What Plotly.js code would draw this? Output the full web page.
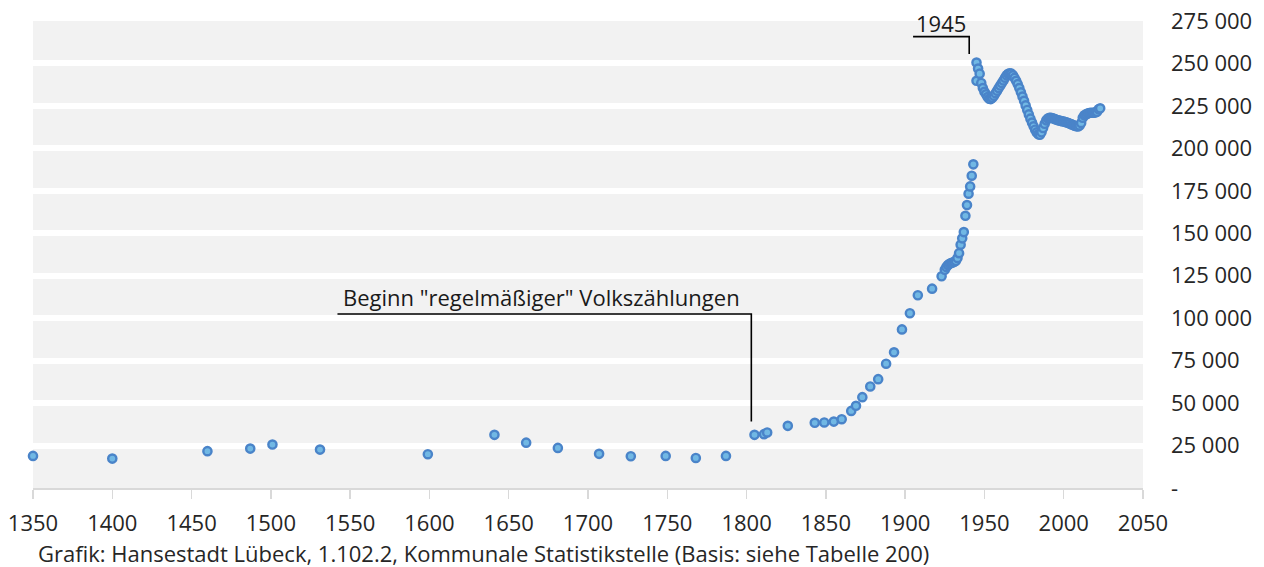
<!DOCTYPE html>
<html>
<head>
<meta charset="utf-8">
<script src="https://cdn.plot.ly/plotly-3.0.1.min.js"></script>
<style>html,body{margin:0;padding:0;background:#fff;}#chart{width:1264px;height:567px;}</style>
</head>
<body>
<div id="chart"></div>
<script>
// Jahr (x) und Einwohner (y)
var years = [1350,1400,1460,1487,1501,1531,1599,1641,1661,1681,1707,1727,1749,1768,1787,
  1805,1811,1813,1826,1843,1849,1855,1860,1866,1869,1873,1878,1883,1888,1893,1898,1903,1908,1917,1923,
  1925,1926,1927,1928,1929,1930,1931,1932,1933,1934,1935,1936,1937,1938,1939,1940,1941,1942,1943,
  1945,1945,1946,1947,1948,1949,1950,1951,1952,1953,1954,1955,1956,1957,1958,1959,1960,1961,1962,1963,1964,
  1965,1966,1967,1968,1969,1970,1971,1972,1973,1974,1975,1976,1977,1978,1979,1980,1981,1982,1983,1984,
  1985,1986,1987,1988,1989,1990,1991,1992,1993,1994,1995,1996,1997,1998,1999,2000,2001,2002,2003,2004,
  2005,2006,2007,2008,2009,2010,2011,2012,2013,2014,2015,2016,2017,2018,2019,2020,2021,2022,2023];
var population = [18900,17300,21700,23200,25600,22600,19900,31300,26700,23600,20100,18700,18900,17700,18900,
  31300,31700,32700,36600,38400,38600,39100,40500,45400,48400,53500,59800,64100,73200,79900,93400,102900,113500,117400,124700,
  128500,130200,131300,132000,132500,132800,133200,133800,135500,138300,143300,147000,150700,160300,166600,173300,177600,183900,190600,
  250500,239800,247000,244000,238500,235500,233300,231800,230200,229200,229000,229800,231000,232500,234000,235500,237000,238500,240000,241600,243000,
  243900,244200,244000,243000,241500,239800,237800,235500,233000,230500,228000,225300,222600,220000,217500,215200,213000,211000,209400,208300,
  208000,209500,212000,214500,216500,217600,218000,218000,217700,217400,217000,216700,216400,216200,216000,215800,215500,215200,214900,214500,
  214100,213700,213300,213000,212900,213500,215000,218000,219500,220000,220500,220800,221000,221000,221000,221200,221500,223000,223600];

var xTickVals = [1350,1400,1450,1500,1550,1600,1650,1700,1750,1800,1850,1900,1950,2000,2050];
var yTickVals = [0,25000,50000,75000,100000,125000,150000,175000,200000,225000,250000,275000];
var yTickText = ['-','25 000','50 000','75 000','100 000','125 000','150 000','175 000','200 000','225 000','250 000','275 000'];

var noteCensus = 'Beginn "regelmäßiger" Volkszählungen';
var note1945 = '1945';
var sourceText = 'Grafik: Hansestadt Lübeck, 1.102.2, Kommunale Statistikstelle (Basis: siehe Tabelle 200)';

var FONT = '"Open Sans", "Noto Sans", sans-serif';

var trace = {
  x: years, y: population, type: 'scatter', mode: 'markers',
  marker: {symbol: 'circle', size: 8.2, color: '#71b8e4', line: {color: '#4a84c9', width: 2.4}},
  hoverinfo: 'x+y', showlegend: false, cliponaxis: false
};

var layout = {
  width: 1264, height: 567,
  margin: {l: 33, r: 121, t: 21, b: 79},
  paper_bgcolor: '#ffffff', plot_bgcolor: '#f2f2f2',
  font: {family: FONT, size: 22, color: '#262626'},
  showlegend: false,
  xaxis: {
    range: [1350, 2050], tickmode: 'array', tickvals: xTickVals,
    showgrid: false, zeroline: false,
    showline: true, linecolor: '#d9d9d9', linewidth: 1.5,
    ticks: 'outside', ticklen: 9, tickwidth: 1.5, tickcolor: '#d9d9d9',
    ticklabelstandoff: 6,
    tickfont: {family: FONT, size: 22, color: '#262626'}
  },
  yaxis: {
    range: [0, 275000], side: 'right', tickmode: 'array', tickvals: yTickVals, ticktext: yTickText,
    showgrid: true, gridcolor: '#ffffff', gridwidth: 6, zeroline: false, showline: false,
    ticks: '', ticklabelstandoff: 27,
    tickfont: {family: FONT, size: 22, color: '#262626'}
  },
  shapes: [
    {type: 'path', xref: 'x', yref: 'y', path: 'M1542,102500 L1803,102500 L1803,39200',
     line: {color: '#000000', width: 1.6}},
    {type: 'path', xref: 'x', yref: 'y', path: 'M1905,265800 L1940.4,265800 L1940.4,255600',
     line: {color: '#000000', width: 1.6}}
  ],
  annotations: [
    {xref: 'x', yref: 'y', x: 1544, y: 112700, text: noteCensus, showarrow: false,
     xanchor: 'left', yanchor: 'middle', font: {family: FONT, size: 22, color: '#1a1a1a'}},
    {xref: 'x', yref: 'y', x: 1905.3, y: 273600, text: note1945, showarrow: false,
     xanchor: 'left', yanchor: 'middle', font: {family: FONT, size: 22, color: '#1a1a1a'}},
    {xref: 'paper', yref: 'paper', x: 0.0027, y: -0.14, text: sourceText, showarrow: false,
     xanchor: 'left', yanchor: 'middle', font: {family: FONT, size: 22, color: '#262626'}}
  ]
};

Plotly.newPlot('chart', [trace], layout, {displayModeBar: false, staticPlot: true});
</script>
</body>
</html>
